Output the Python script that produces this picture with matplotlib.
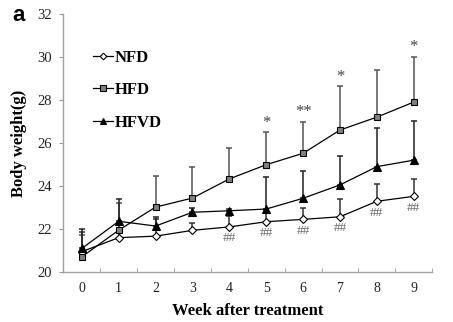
import matplotlib
matplotlib.use("Agg")
import matplotlib.pyplot as plt
import numpy as np

weeks = [0, 1, 2, 3, 4, 5, 6, 7, 8, 9]
week_labels = ["0", "1", "2", "3", "4", "5", "6", "7", "8", "9"]

nfd_mean = [20.95, 21.60, 21.67, 21.94, 22.10, 22.34, 22.45, 22.57, 23.29, 23.52]
nfd_err = [0.92, 0.60, 0.78, 0.35, 0.52, 0.50, 0.55, 0.84, 0.80, 0.79]

hfd_mean = [20.71, 21.95, 23.02, 23.44, 24.33, 24.99, 25.52, 26.60, 27.20, 27.90]
hfd_err = [1.01, 1.25, 1.45, 1.43, 1.42, 1.51, 1.47, 2.05, 2.20, 2.11]

hfvd_mean = [21.10, 22.36, 22.14, 22.78, 22.85, 22.93, 23.43, 24.05, 24.90, 25.20]
hfvd_err = [0.90, 1.02, 0.43, 0.22, 0.10, 1.49, 1.28, 1.35, 1.78, 1.84]

star_weeks = [5, 6, 7, 9]
star_labels = ["*", "**", "*", "*"]
hash_weeks = [4, 5, 6, 7, 8, 9]
hash_labels = ["##", "##", "##", "##", "##", "##"]

serif = ["Liberation Serif", "DejaVu Serif"]
plt.rcParams["font.family"] = serif

fig = plt.figure(figsize=(4.53, 3.22), dpi=100)
ax = fig.add_axes([0.140, 0.155, 0.814, 0.802])

x = np.array(weeks)
zero = np.zeros(len(x))

def draw(mean, err, marker, mfc, label, ecolor, ms):
    ax.errorbar(x, mean, yerr=[zero, np.array(err)], fmt="none", ecolor=ecolor,
                elinewidth=1.1, capsize=2.2, capthick=1.1, zorder=2)
    ax.plot(x, mean, color="black", lw=0.9, marker=marker, mfc=mfc, mec="black",
            mew=0.8, ms=ms, label=label, zorder=3)

draw(nfd_mean, nfd_err, "D", "white", "NFD", "#333333", 4.2)
draw(hfd_mean, hfd_err, "s", "#808080", "HFD", "#555555", 5)
draw(hfvd_mean, hfvd_err, "^", "black", "HFVD", "#222222", 5.5)

for w, s in zip(star_weeks, star_labels):
    i = weeks.index(w)
    ax.annotate(s, (w, hfd_mean[i] + hfd_err[i]), xytext=(0, 1), textcoords="offset points",
                ha="center", va="bottom", fontsize=12, color="#444444")
for w, s in zip(hash_weeks, hash_labels):
    i = weeks.index(w)
    ax.annotate(s, (w, nfd_mean[i]), xytext=(0, -4), textcoords="offset points",
                ha="center", va="top", fontsize=9.5, color="#666666")

ax.set_xlim(-0.5, 9.5)
ax.set_ylim(20, 32)
ax.set_yticks([20, 22, 24, 26, 28, 30, 32])
ax.set_xticks(x)
ax.set_xticklabels(week_labels)
ax.set_xticks(np.arange(-0.5, 10, 1), minor=True)
ax.tick_params(axis="x", which="major", length=0, labelsize=10, pad=7, colors="#222222")
ax.tick_params(axis="x", which="minor", length=3, direction="in", color="#999999")
ax.tick_params(axis="y", length=3, direction="out", labelsize=10.5, color="#999999",
               labelcolor="#222222", pad=5)
for side in ["top", "right"]:
    ax.spines[side].set_visible(False)
for side in ["left", "bottom"]:
    ax.spines[side].set_color("#a0a0a0")
    ax.spines[side].set_linewidth(1.0)

ax.set_xlabel("Week after treatment", fontsize=12, fontweight="bold", labelpad=6)
ax.set_ylabel("Body weight(g)", fontsize=12, fontweight="bold", labelpad=8)

leg = ax.legend(loc="upper left", bbox_to_anchor=(0.04, 0.92), frameon=False,
                prop={"family": serif, "weight": "bold", "size": 12},
                handlelength=1.2, handletextpad=0.1, labelspacing=1.0, markerscale=0.8)

fig.text(0.028, 0.985, "a", fontsize=16, fontweight="bold", family=["Liberation Sans", "DejaVu Sans"],
         va="top", ha="left")

fig.savefig("out.png", dpi=100)
